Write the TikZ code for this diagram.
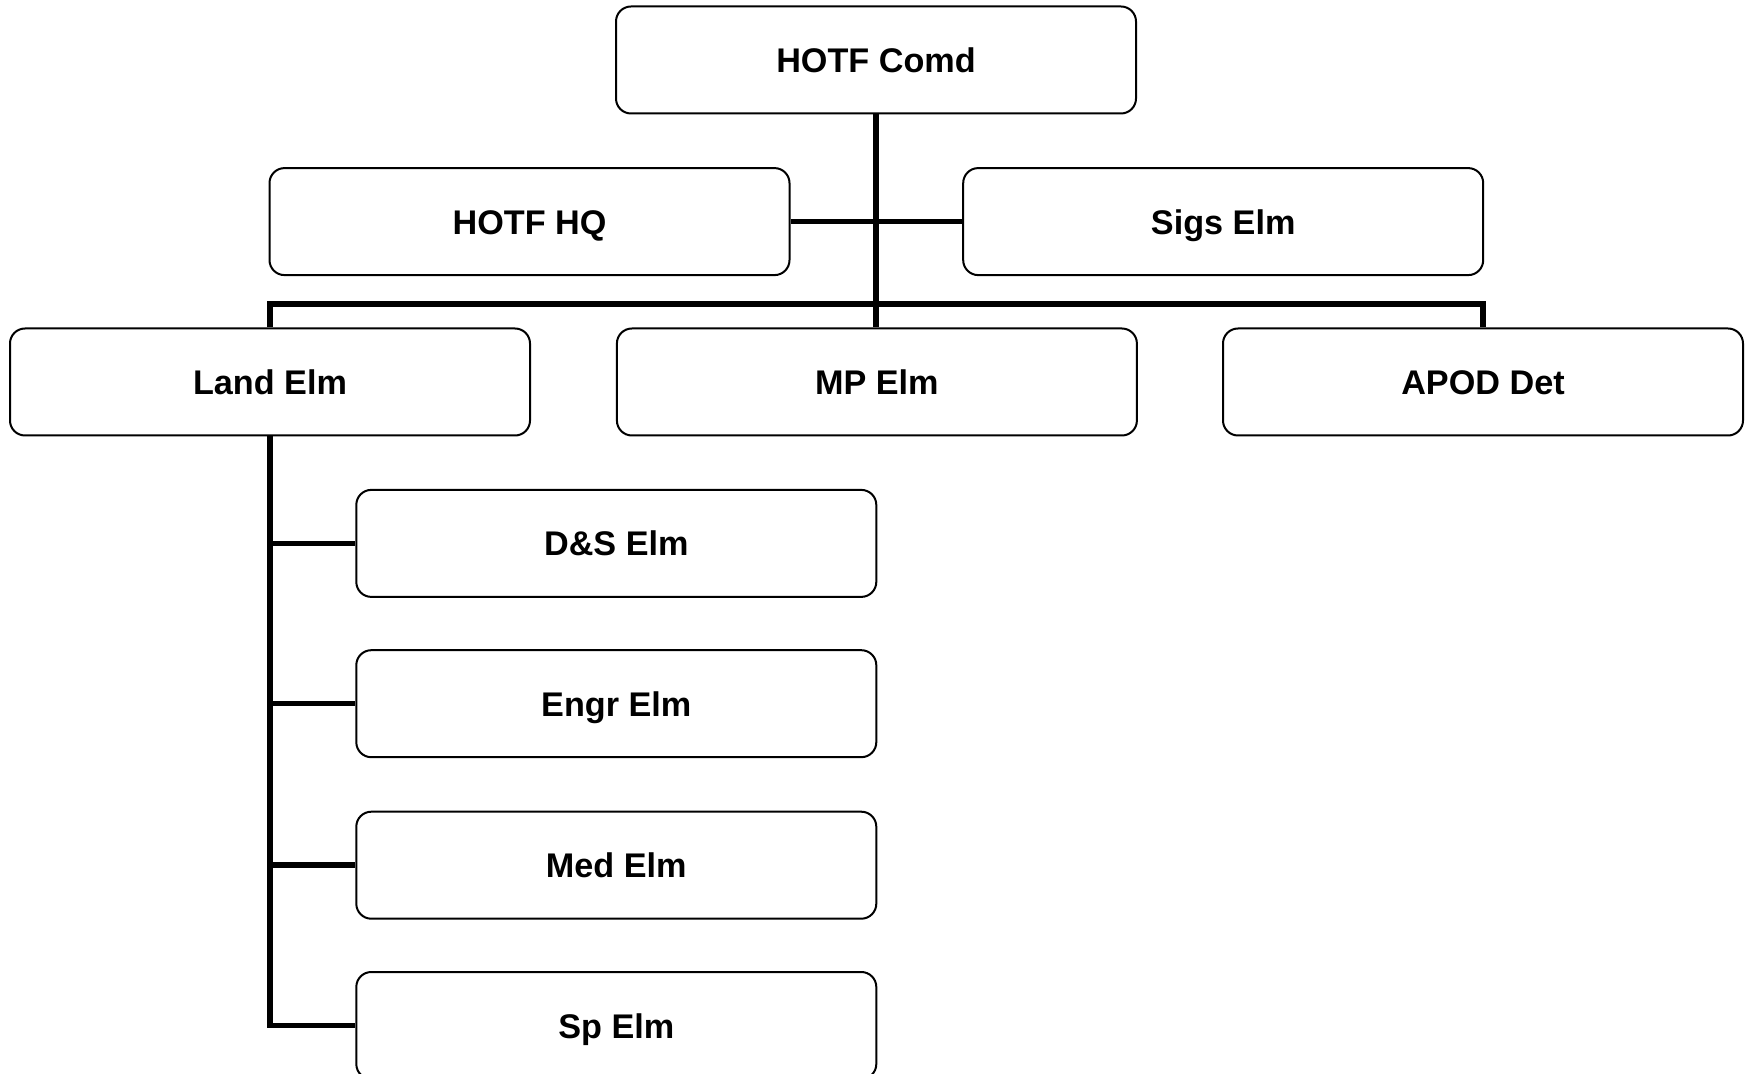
\documentclass[tikz,border=0pt]{standalone}
\usepackage{fontspec}
\setmainfont{Liberation Sans}
\begin{document}
\begin{tikzpicture}[x=0.5pt,y=-0.5pt,
  box/.style={draw=black,line width=1pt,rounded corners=7.5pt,fill=white,
    minimum width=260pt,minimum height=53.5pt,inner sep=0pt,
    text height=12.6pt,text depth=0pt,
    font=\fontsize{17.1pt}{20pt}\selectfont\bfseries},
  conn/.style={line width=2.8pt}]
\useasboundingbox (0,0) rectangle (1746,1074);
\begin{scope}
\clip (0,0) rectangle (1746,1074);
\node[box] (comd) at (876,60) {HOTF Comd};
\node[box] (hq) at (529.5,221.6) {HOTF HQ};
\node[box] (sigs) at (1223.2,221.6) {Sigs Elm};
\node[box] (land) at (270,382) {Land Elm};
\node[box] (mp) at (876.9,382) {MP Elm};
\node[box] (apod) at (1483,382) {APOD Det};
\node[box] (ds) at (616.3,543.4) {D\&S Elm};
\node[box] (engr) at (616.3,703.7) {Engr Elm};
\node[box] (med) at (616.3,865.2) {Med Elm};
\node[box] (sp) at (616.3,1025.5) {Sp Elm};
\coordinate (bus) at (876,304);
\draw[conn] (comd.south) -- (comd.south |- mp.north);
\draw[conn] (hq.east) -- (sigs.west);
\draw[conn] (land.north) -- (land.north |- bus) -- (apod.north |- bus) -- (apod.north);
\draw[conn] (land.south) -- (land.south |- sp.west) -- (sp.west);
\draw[conn] (land.south |- ds.west) -- (ds.west);
\draw[conn] (land.south |- engr.west) -- (engr.west);
\draw[conn] (land.south |- med.west) -- (med.west);
\end{scope}
\end{tikzpicture}
\end{document}
